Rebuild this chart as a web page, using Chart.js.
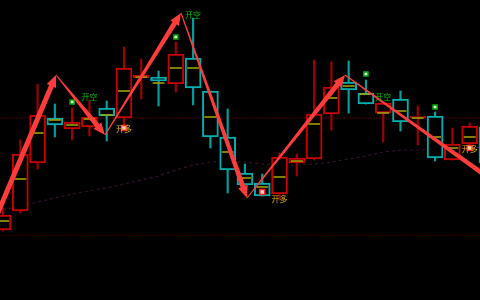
<!DOCTYPE html>
<html>
<head>
<meta charset="utf-8">
<script src="https://cdn.jsdelivr.net/npm/chart.js@4.4.1/dist/chart.umd.min.js"></script>
<style>
html, body { margin: 0; padding: 0; background: #000; }
#wrap { width: 480px; height: 300px; }
</style>
</head>
<body>
<div id="wrap"><canvas id="kline"></canvas></div>
<script>
// candle values, one entry per bar
var opens  = [107.0, 108.9, 113.7, 118.2, 117.1, 117.3, 119.2, 118.2, 122.2, 122.3, 121.6, 124.2, 120.9, 116.3, 112.7, 111.7, 110.6, 113.7, 114.1, 118.6, 121.8, 120.7, 118.7, 120.1, 118.2, 118.4, 114.0, 115.6, 117.3];
var highs  = [109.2, 116.0, 121.6, 119.6, 119.2, 120.0, 119.9, 125.3, 124.1, 122.9, 125.8, 128.2, 120.9, 119.1, 113.6, 112.6, 114.7, 114.6, 124.0, 123.8, 123.9, 122.0, 119.7, 120.9, 119.4, 118.8, 117.2, 117.7, 118.0];
var lows   = [106.9, 108.7, 113.1, 116.3, 116.0, 116.4, 115.9, 117.0, 120.1, 119.4, 120.8, 119.5, 115.2, 110.7, 111.5, 110.4, 110.0, 112.4, 114.0, 117.0, 118.7, 119.6, 115.8, 116.9, 115.5, 113.9, 114.0, 115.5, 113.5];
var closes = [108.5, 114.6, 118.5, 117.5, 117.8, 118.3, 118.4, 123.2, 122.5, 121.9, 124.6, 121.2, 116.3, 113.0, 111.5, 110.4, 114.3, 114.2, 118.6, 121.3, 121.0, 119.6, 119.7, 117.8, 118.4, 114.2, 115.6, 117.4, 113.7];
var mids   = [107.9, 112.1, 116.7, 118.0, 117.5, 118.1, 118.5, 120.9, 122.3, 121.7, 123.2, 123.2, 118.3, 114.8, 112.2, 111.3, 112.3, 113.9, 117.6, 120.2, 121.4, 120.6, 118.7, 118.9, 118.2, 116.3, 115.2, 116.3, 116.0];
var maValues = [109.0, 109.4, 109.8, 110.2, 110.6, 110.9, 111.2, 111.6, 112.0, 112.4, 113.0, 113.5, 113.8, 113.9, 113.8, 113.6, 113.5, 113.5, 113.6, 113.8, 114.1, 114.4, 114.8, 115.0, 115.0, 115.1, 115.2, 115.2, 115.3];

// zigzag swing points (bar index, price)
var zigzagX = [-0.64, 3.07, 5.9, 10.3, 14.12, 19.79, 28.76];
var zigzagY = [107.3, 122.5, 116.5, 128.7, 110.2, 122.5, 111.4];

// signals
var shortX = [5, 11, 22];
var shortY = [120.3, 128.5, 120.3];
var longX = [7, 16, 27];
var longY = [117.1, 110.1, 115.1];
var greenDotX = [4, 10, 21, 25];
var greenDotY = [119.8, 126.3, 122.6, 119.3];
var redDotX = [7, 15, 27];
var redDotY = [117.2, 110.8, 115.2];

var levels = [118.2, 106.45];

var RED = '#c80000', CYAN = '#00b0b0';
var isUp = opens.map(function(o, i) { return closes[i] >= o; });

var bodies = opens.map(function(o, i) { return {x: i, y: [o, closes[i]]}; });
var wicks = highs.map(function(h, i) { return {x: i, y: [lows[i], h]}; });
var midPts = mids.map(function(m, i) { return {x: i, y: m}; });
var maPts = maValues.map(function(v, i) { return {x: i, y: v}; });
function pts(xs, ys) { return xs.map(function(x, i) { return {x: x, y: ys[i]}; }); }

var levelSets = levels.map(function(l, k) {
  return {
    type: 'line',
    data: [{x: -2, y: l}, {x: 30, y: l}],
    borderColor: k === 0 ? '#9a0000' : '#6a0000',
    borderWidth: 1,
    borderDash: [1, 2],
    pointRadius: 0,
    order: 6
  };
});

var overlay = {
  id: 'overlay',
  afterDatasetsDraw: function(chart) {
    var ctx = chart.ctx, xs = chart.scales.x, ys = chart.scales.y;
    ctx.save();
    ctx.fillStyle = '#ff3c3c';
    for (var i = 0; i < zigzagX.length - 1; i++) {
      var x0 = xs.getPixelForValue(zigzagX[i]), y0 = ys.getPixelForValue(zigzagY[i]);
      var x1 = xs.getPixelForValue(zigzagX[i + 1]), y1 = ys.getPixelForValue(zigzagY[i + 1]);
      var dx = x1 - x0, dy = y1 - y0, len = Math.sqrt(dx * dx + dy * dy);
      var ux = dx / len, uy = dy / len, nx = -uy, ny = ux;
      var head = 12, hw = 5;
      var bx = x1 - ux * head, by = y1 - uy * head;
      var w0 = i === 0 ? 2.5 : 0.5, w1 = 2.5;
      ctx.beginPath();
      ctx.moveTo(x0 + nx * w0, y0 + ny * w0);
      ctx.lineTo(bx + nx * w1, by + ny * w1);
      ctx.lineTo(bx + nx * hw, by + ny * hw);
      ctx.lineTo(x1, y1);
      ctx.lineTo(bx - nx * hw, by - ny * hw);
      ctx.lineTo(bx - nx * w1, by - ny * w1);
      ctx.lineTo(x0 - nx * w0, y0 - ny * w0);
      ctx.closePath();
      ctx.fill();
    }
    ctx.font = '8px "Noto Sans CJK SC"';
    ctx.textAlign = 'center';
    ctx.textBaseline = 'middle';
    ctx.fillStyle = '#00c000';
    shortX.forEach(function(x, k) {
      ctx.fillText('开空', xs.getPixelForValue(x), ys.getPixelForValue(shortY[k]));
    });
    ctx.fillStyle = '#d8b400';
    longX.forEach(function(x, k) {
      ctx.fillText('开多', xs.getPixelForValue(x), ys.getPixelForValue(longY[k]));
    });
    ctx.restore();
  }
};

new Chart(document.getElementById('kline'), {
  type: 'bar',
  data: {
    datasets: [{
      data: bodies,
      backgroundColor: '#000',
      borderColor: isUp.map(function(u) { return u ? RED : CYAN; }),
      borderWidth: 2,
      borderSkipped: false,
      barThickness: 16,
      grouped: false,
      order: 2
    }, {
      data: wicks,
      backgroundColor: isUp.map(function(u) { return u ? '#a00000' : '#00a0a0'; }),
      borderWidth: 0,
      barThickness: 1.5,
      grouped: false,
      order: 3
    }, {
      type: 'line',
      data: midPts,
      showLine: false,
      pointStyle: 'line',
      pointRadius: 6,
      pointBorderWidth: 1.5,
      pointBorderColor: '#a8a800',
      order: 1
    }, {
      type: 'line',
      data: maPts,
      borderColor: '#30102c',
      borderWidth: 1.2,
      borderDash: [3, 3],
      pointRadius: 0,
      order: 5
    }, {
      type: 'line',
      data: pts(greenDotX, greenDotY),
      showLine: false,
      pointStyle: 'rect',
      pointRadius: 3,
      pointBackgroundColor: '#d0ffd0',
      pointBorderColor: '#00a000',
      pointBorderWidth: 1.5,
      order: 0
    }, {
      type: 'line',
      data: pts(redDotX, redDotY),
      showLine: false,
      pointStyle: 'rect',
      pointRadius: 3.5,
      pointBackgroundColor: '#ffd0d0',
      pointBorderColor: '#ff2020',
      pointBorderWidth: 1.5,
      order: 0
    }].concat(levelSets)
  },
  options: {
    responsive: true,
    maintainAspectRatio: false,
    animation: false,
    layout: { padding: 0, autoPadding: false },
    plugins: {
      legend: { display: false },
      tooltip: { enabled: false }
    },
    scales: {
      x: { type: 'linear', min: -0.174, max: 27.6, offset: false, display: false },
      y: { min: 100, max: 130, display: false }
    }
  },
  plugins: [overlay]
});
</script>
</body>
</html>
